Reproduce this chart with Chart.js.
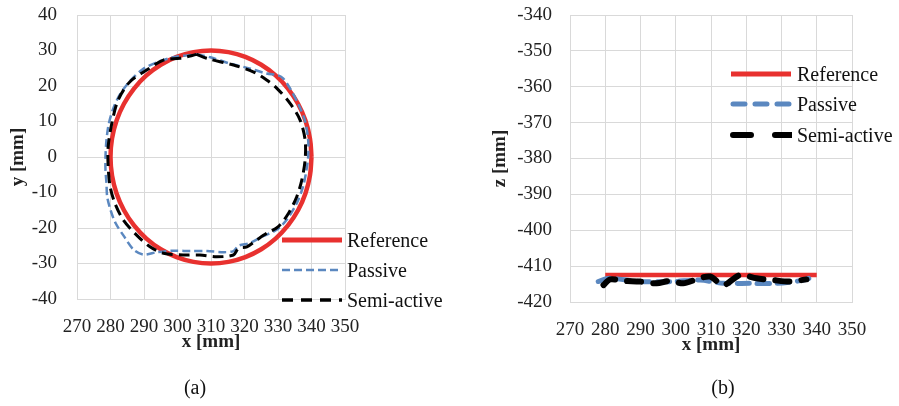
<!DOCTYPE html>
<html>
<head>
<meta charset="utf-8">
<script src="https://cdn.jsdelivr.net/npm/chart.js@4/dist/chart.umd.min.js"></script>
<style>
  body { margin:0; width:899px; height:406px; position:relative; background:#fff; overflow:hidden; }
  canvas { position:absolute; top:0; }
  .leg { position:absolute; display:flex; align-items:center; font-family:'Liberation Serif', serif; font-size:20px; color:#111; white-space:nowrap; height:24px; }
  .leg svg { margin-right:5px; }
  .cap { position:absolute; font-family:'Liberation Serif', serif; font-size:20px; color:#111; transform:translate(-50%,-50%); }
</style>
</head>
<body>
<canvas id="c1" width="450" height="406" style="left:0"></canvas>
<canvas id="c2" width="449" height="406" style="left:450px"></canvas>

<div class="leg" style="left:282px; top:228px;"><svg width="60" height="10"><line x1="0" y1="5" x2="60" y2="5" stroke="#e8312f" stroke-width="5"/></svg>Reference</div>
<div class="leg" style="left:282px; top:258px;"><svg width="60" height="10"><line x1="0" y1="5" x2="60" y2="5" stroke="#5b88c0" stroke-width="2.5" stroke-dasharray="8,4"/></svg>Passive</div>
<div class="leg" style="left:282px; top:288px;"><svg width="60" height="10"><line x1="0" y1="5" x2="60" y2="5" stroke="#000" stroke-width="3.5" stroke-dasharray="11,8"/></svg>Semi-active</div>

<div class="leg" style="left:730px; top:62px;"><svg width="62" height="10"><line x1="1" y1="5" x2="61" y2="5" stroke="#e8312f" stroke-width="5"/></svg>Reference</div>
<div class="leg" style="left:730px; top:92px;"><svg width="62" height="10"><line x1="3" y1="5" x2="61" y2="5" stroke="#5b88c0" stroke-width="5" stroke-linecap="round" stroke-dasharray="12,10"/></svg>Passive</div>
<div class="leg" style="left:730px; top:123px;"><svg width="62" height="10"><line x1="3" y1="5" x2="61" y2="5" stroke="#000" stroke-width="6" stroke-linecap="round" stroke-dasharray="18,24"/></svg>Semi-active</div>

<div class="cap" style="left:195px; top:387px;">(a)</div>
<div class="cap" style="left:723px; top:387px;">(b)</div>

<script>
// ---------- Data (a): x-y plane ----------
const refXY_x = [340,339.54,338.19,335.98,332.98,329.28,325,320.26,315.21,310,304.79,299.74,295,290.72,287.02,284.02,281.81,280.46,280,280.46,281.81,284.02,287.02,290.72,295,299.74,304.79,310,315.21,320.26,325,329.28,332.98,335.98,338.19,339.54,340];
const refXY_y = [0,5.21,10.26,15,19.28,22.98,25.98,28.19,29.54,30,29.54,28.19,25.98,22.98,19.28,15,10.26,5.21,0,-5.21,-10.26,-15,-19.28,-22.98,-25.98,-28.19,-29.54,-30,-29.54,-28.19,-25.98,-22.98,-19.28,-15,-10.26,-5.21,0];

const passXY_x = [305.8,309.8,315.7,321.7,326.6,330.1,331.6,333.6,336,338,339,339,338.5,337.5,335.6,332.6,329.6,325.6,321.7,318.2,316.7,313.7,308.8,303.8,298.8,293.9,289.9,286.9,284,281.5,280,279,278.8,278.5,278.5,278.8,279.5,281,283,286,289.9,293.9,298.8,305.8];
const passXY_y = [28.9,28.1,26.3,24.9,23.5,23.0,22.1,19.3,15,10.4,4.8,0,-3.6,-8.3,-13,-17.7,-20.5,-22.3,-24.2,-25,-26.5,-26.8,-26.5,-26.5,-26.4,-26.8,-27.5,-26.1,-22.3,-18.6,-14.9,-11.1,-7.4,-3.6,0,4.8,9.4,14.1,17.9,21.6,24.9,26.7,28.1,28.9];

const semiXY_x = [305.7,308.7,316.7,322.6,326.6,329.6,333.6,336.6,338.1,338.1,337.1,335.6,333.1,330.1,326.6,323.6,320.7,318.2,316.7,311.7,306.7,301.7,295.8,291.8,287.8,283.8,281.3,279.9,279.3,279.3,280.4,282.3,285.8,290.8,295.8,300.7,305.7];
const semiXY_y = [28.9,27.8,25.9,24.0,21.7,19.4,15.1,10.4,4.8,-0.8,-6.5,-11.2,-15.9,-19.6,-21.5,-23.4,-25.3,-25.7,-27.6,-28.1,-27.6,-27.6,-27.1,-25.3,-22,-17.7,-13,-8.4,-2.7,2.9,9.5,16.1,21.2,24.5,27.3,27.8,28.9];

// ---------- Data (b): x-z plane ----------
const refXZ_x = [280,340];
const refXZ_z = [-412.5,-412.5];
const passXZ_x = [278,281.1,289.9,299.3,306.9,313.5,321.1,328.7,336.2,339.1];
const passXZ_z = [-414.3,-413.4,-414.3,-414.3,-413.9,-414.8,-414.8,-414.8,-413.9,-412.9];
const semiXZ_x = [279.5,281.4,285.1,289.9,294.6,298.4,302.1,305.9,309.7,313.5,318.2,322.9,327.6,332.3,337.1];
const semiXZ_z = [-415.3,-413.7,-414.1,-414.3,-414.8,-414.1,-414.8,-413.7,-412.9,-415.3,-412.5,-413.4,-413.9,-414.3,-413.7];

// ---------- Axis ticks ----------
const xTicks = [270,280,290,300,310,320,330,340,350];
const yTicksA = [-40,-30,-20,-10,0,10,20,30,40];
const zTicksB = [-420,-410,-400,-390,-380,-370,-360,-350,-340];

const pts = (xs, ys) => xs.map((x, i) => ({x, y: ys[i]}));
const RED = '#e8312f', BLUE = '#5b88c0', BLACK = '#000000';
const GRID = '#d9d9d9';
const FONT = "'Liberation Serif', serif";

function makeChart(id, cfg) {
  return new Chart(document.getElementById(id), {
    type: 'scatter',
    data: { datasets: cfg.datasets },
    options: {
      responsive: false, animation: false, devicePixelRatio: 1,
      layout: { padding: cfg.padding },
      plugins: { legend: { display: false }, tooltip: { enabled: false } },
      elements: { point: { radius: 0 } },
      scales: {
        x: {
          type: 'linear', min: xTicks[0], max: xTicks[xTicks.length-1],
          afterBuildTicks: s => { s.ticks = xTicks.map(v => ({value: v})); },
          afterFit: s => { s.height = cfg.xHeight; s.paddingLeft = 0; s.paddingRight = 0; },
          grid: { color: GRID, lineWidth: 1, drawTicks: false },
          border: { color: GRID, width: 1 },
          ticks: { padding: cfg.xTickPad, color: '#222', font: { family: FONT, size: 19 }, maxRotation: 0, autoSkip: false },
          title: { display: true, text: 'x [mm]', color: '#222', font: { family: FONT, size: 19, weight: 'bold' }, padding: 0 }
        },
        y: {
          type: 'linear', min: cfg.yTicks[0], max: cfg.yTicks[cfg.yTicks.length-1],
          afterBuildTicks: s => { s.ticks = cfg.yTicks.map(v => ({value: v})); },
          afterFit: s => { s.width = cfg.yWidth; s.paddingTop = 0; s.paddingBottom = 0; },
          grid: { color: GRID, lineWidth: 1, drawTicks: false },
          border: { color: GRID, width: 1 },
          ticks: { padding: cfg.yTickPad, color: '#222', font: { family: FONT, size: 19 }, autoSkip: false },
          title: { display: true, text: cfg.yTitle, color: '#222', font: { family: FONT, size: 19, weight: 'bold' }, padding: 0 }
        }
      }
    }
  });
}

makeChart('c1', {
  padding: { top: 15, right: 105, left: 7, bottom: 53 },
  xHeight: 54, yWidth: 70, xTickPad: 17, yTickPad: 20,
  yTicks: yTicksA, yTitle: 'y [mm]',
  datasets: [
    { label: 'Reference', data: pts(refXY_x, refXY_y), showLine: true, borderColor: RED, borderWidth: 4.5, tension: 0.4, order: 3 },
    { label: 'Passive', data: pts(passXY_x, passXY_y), showLine: true, borderColor: BLUE, borderWidth: 2.5, borderDash: [8,4], tension: 0.3, order: 2 },
    { label: 'Semi-active', data: pts(semiXY_x, semiXY_y), showLine: true, borderColor: BLACK, borderWidth: 3, borderDash: [11,6], tension: 0.3, order: 1 }
  ]
});

makeChart('c2', {
  padding: { top: 15, right: 47, left: 39, bottom: 50 },
  xHeight: 54, yWidth: 81, xTickPad: 17, yTickPad: 18,
  yTicks: zTicksB, yTitle: 'z [mm]',
  datasets: [
    { label: 'Reference', data: pts(refXZ_x, refXZ_z), showLine: true, borderColor: RED, borderWidth: 4.5, order: 3 },
    { label: 'Passive', data: pts(passXZ_x, passXZ_z), showLine: true, borderColor: BLUE, borderWidth: 5, borderDash: [12,8], borderCapStyle: 'round', tension: 0.3, order: 2 },
    { label: 'Semi-active', data: pts(semiXZ_x, semiXZ_z), showLine: true, borderColor: BLACK, borderWidth: 6, borderDash: [14,12], borderCapStyle: 'round', tension: 0.3, order: 1 }
  ]
});
</script>
</body>
</html>
